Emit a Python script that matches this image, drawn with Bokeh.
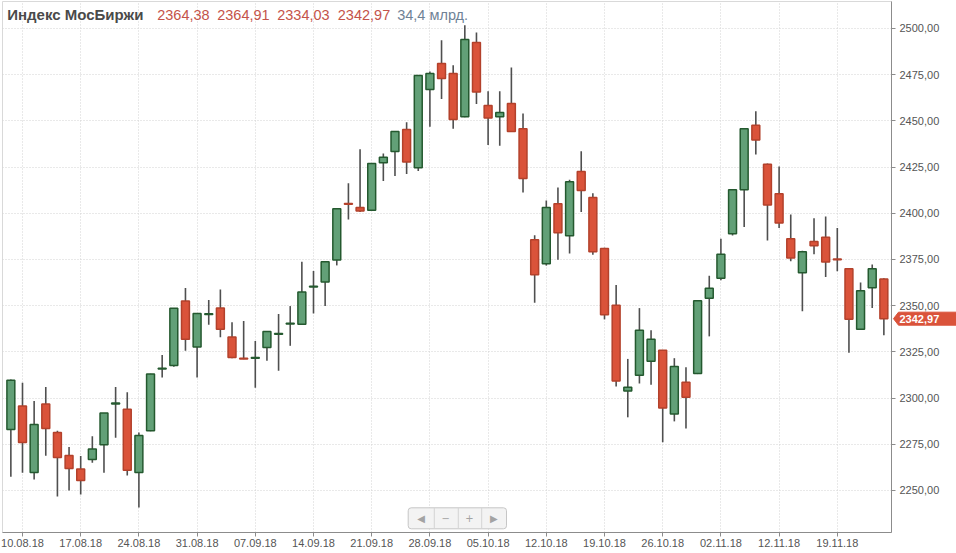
from bokeh.plotting import figure
from bokeh.models import (ColumnDataSource, FixedTicker, Label,
                          BoxAnnotation, Range1d, CustomJSTickFormatter)
from bokeh.core.properties import value
from bokeh.embed import file_html
from bokeh.resources import INLINE

# ---------------- data ----------------
dates = [
    "09.08.18", "10.08.18",
    "13.08.18", "14.08.18", "15.08.18", "16.08.18", "17.08.18",
    "20.08.18", "21.08.18", "22.08.18", "23.08.18", "24.08.18",
    "27.08.18", "28.08.18", "29.08.18", "30.08.18", "31.08.18",
    "03.09.18", "04.09.18", "05.09.18", "06.09.18", "07.09.18",
    "10.09.18", "11.09.18", "12.09.18", "13.09.18", "14.09.18",
    "17.09.18", "18.09.18", "19.09.18", "20.09.18", "21.09.18",
    "24.09.18", "25.09.18", "26.09.18", "27.09.18", "28.09.18",
    "01.10.18", "02.10.18", "03.10.18", "04.10.18", "05.10.18",
    "08.10.18", "09.10.18", "10.10.18", "11.10.18", "12.10.18",
    "15.10.18", "16.10.18", "17.10.18", "18.10.18", "19.10.18",
    "22.10.18", "23.10.18", "24.10.18", "25.10.18", "26.10.18",
    "29.10.18", "30.10.18", "31.10.18", "01.11.18", "02.11.18",
    "06.11.18", "07.11.18", "08.11.18", "09.11.18",
    "12.11.18", "13.11.18", "14.11.18", "15.11.18", "16.11.18",
    "19.11.18", "20.11.18", "21.11.18", "22.11.18", "23.11.18",
]

opens = [
    2283.0, 2295.7, 2259.7, 2296.8, 2281.4, 2269.0, 2261.6, 2266.8, 2274.7, 2296.8,
    2293.9, 2259.7, 2282.3, 2315.7, 2317.7, 2352.5, 2327.6, 2345.3, 2348.7, 2333.0,
    2321.6, 2321.6, 2327.4, 2334.6, 2340.1, 2339.9, 2360.1, 2362.8, 2374.7, 2405.3,
    2403.1, 2401.6, 2427.3, 2433.4, 2445.3, 2424.7, 2467.0, 2481.0, 2475.6, 2452.2,
    2492.4, 2458.3, 2452.2, 2459.4, 2445.8, 2385.7, 2372.7, 2405.2, 2387.9, 2422.6,
    2408.5, 2380.9, 2350.2, 2303.8, 2312.4, 2320.0, 2325.9, 2291.4, 2308.6, 2313.3,
    2354.0, 2364.8, 2388.9, 2412.8, 2447.7, 2426.5, 2410.6, 2386.2, 2367.8, 2384.8,
    2387.0, 2375.3, 2370.0, 2337.3, 2359.7, 2364.38,
]
highs = [
    2310.0, 2308.3, 2298.4, 2306.0, 2282.3, 2273.6, 2268.6, 2279.4, 2292.0, 2306.0,
    2303.1, 2281.4, 2313.2, 2323.3, 2348.8, 2359.6, 2346.0, 2353.1, 2358.8, 2341.0,
    2341.7, 2330.9, 2336.3, 2345.5, 2349.8, 2373.8, 2368.8, 2374.0, 2402.7, 2416.2,
    2434.7, 2427.0, 2432.3, 2444.3, 2449.3, 2474.5, 2476.7, 2493.7, 2480.1, 2501.8,
    2497.8, 2466.1, 2466.1, 2478.9, 2454.0, 2388.1, 2406.9, 2413.9, 2418.2, 2433.6,
    2410.8, 2381.4, 2361.2, 2321.2, 2348.7, 2336.7, 2326.0, 2321.6, 2316.7, 2352.8,
    2366.2, 2386.2, 2413.0, 2445.9, 2455.2, 2427.0, 2425.3, 2399.4, 2379.7, 2397.3,
    2398.3, 2392.0, 2370.2, 2362.6, 2372.3, 2364.91,
]
lows = [
    2257.4, 2259.6, 2256.0, 2268.8, 2246.8, 2250.0, 2247.8, 2265.0, 2259.6, 2278.5,
    2258.1, 2240.8, 2282.0, 2311.2, 2317.0, 2325.6, 2311.2, 2339.7, 2332.9, 2321.5,
    2321.0, 2305.6, 2320.2, 2314.8, 2328.3, 2339.5, 2345.8, 2349.8, 2371.8, 2396.6,
    2400.7, 2401.3, 2417.5, 2420.2, 2421.3, 2422.9, 2446.8, 2461.9, 2445.7, 2452.0,
    2459.2, 2437.0, 2436.5, 2444.0, 2411.2, 2351.6, 2371.7, 2374.9, 2378.2, 2400.7,
    2377.6, 2342.6, 2306.3, 2289.6, 2307.9, 2307.2, 2276.1, 2287.4, 2283.6, 2313.0,
    2333.4, 2363.8, 2388.0, 2392.6, 2431.8, 2385.3, 2392.0, 2374.1, 2347.0, 2377.9,
    2365.5, 2368.7, 2324.5, 2337.0, 2348.7, 2334.03,
]
closes = [
    2309.6, 2276.0, 2285.7, 2283.6, 2267.9, 2261.9, 2255.4, 2272.4, 2291.9, 2297.3,
    2261.0, 2279.8, 2313.0, 2316.1, 2348.6, 2331.8, 2345.8, 2345.7, 2337.2, 2322.0,
    2321.2, 2322.0, 2336.1, 2335.0, 2340.5, 2357.4, 2360.5, 2373.8, 2402.5, 2404.9,
    2401.3, 2426.9, 2430.3, 2444.2, 2427.8, 2474.5, 2475.6, 2472.9, 2450.7, 2494.0,
    2465.7, 2451.6, 2454.5, 2444.2, 2418.8, 2366.8, 2403.1, 2389.5, 2417.1, 2412.3,
    2379.2, 2345.1, 2309.2, 2305.9, 2336.7, 2331.8, 2294.6, 2317.1, 2300.5, 2352.7,
    2359.5, 2377.9, 2412.8, 2445.8, 2439.7, 2404.5, 2394.7, 2375.8, 2379.2, 2382.4,
    2373.6, 2374.9, 2342.7, 2358.1, 2370.0, 2342.97,
]

tick_labels = ["10.08.18", "17.08.18", "24.08.18", "31.08.18", "07.09.18",
               "14.09.18", "21.09.18", "28.09.18", "05.10.18", "12.10.18",
               "19.10.18", "26.10.18", "02.11.18", "12.11.18", "19.11.18"]
price_ticks = [2250, 2275, 2300, 2325, 2350, 2375, 2400, 2425, 2450, 2475, 2500]

title_text = "Индекс МосБиржи"
volume_bln = 34.4
volume_unit = "млрд."

# ---------------- styles ----------------
UP_FILL, UP_LINE = "#62a077", "#24592f"
DN_FILL, DN_LINE = "#da533a", "#b3412b"
WICK = "#4f4f4f"
GRID = "#d2d2d2"
AXIS = "#8c8c8c"
LABEL = "#555555"
FONT = "Liberation Sans"

W, H = 956, 553
BORDER_L, BORDER_T, BORDER_R, BORDER_B = 2, 1, 65, 21


def fmt(v, nd=2):
    return f"{v:.{nd}f}".replace(".", ",")


idx = list(range(len(dates)))
up = [c >= o for o, c in zip(opens, closes)]


def src(flag):
    sel = [i for i in idx if up[i] == flag]
    return ColumnDataSource(dict(
        x=sel,
        top=[max(opens[i], closes[i]) for i in sel],
        bottom=[min(opens[i], closes[i]) for i in sel],
        high=[highs[i] for i in sel],
        low=[lows[i] for i in sel],
    ))


src_up, src_dn = src(True), src(False)

yr = Range1d(2227.27, 2514.61)
p = figure(width=W, height=H,
           x_range=Range1d(-0.718, 75.656), y_range=yr,
           output_backend="svg", toolbar_location=None,
           y_axis_location="right",
           min_border_left=BORDER_L, min_border_top=BORDER_T,
           min_border_right=BORDER_R, min_border_bottom=BORDER_B)
p.outline_line_color = "#d9d9d9"
p.background_fill_color = "white"
p.border_fill_color = "white"

# wicks
for s in (src_up, src_dn):
    p.segment(x0="x", x1="x", y0="high", y1="low", source=s,
              line_color=WICK, line_width=1.6)
# bodies
p.vbar(x="x", width=0.68, top="top", bottom="bottom", source=src_up,
       fill_color=UP_FILL, line_color=UP_LINE, line_width=1.5)
p.vbar(x="x", width=0.68, top="top", bottom="bottom", source=src_dn,
       fill_color=DN_FILL, line_color=DN_LINE, line_width=1.5)

# axes
tick_idx = [dates.index(t) for t in tick_labels]
p.xaxis.ticker = FixedTicker(ticks=tick_idx)
p.xaxis.major_label_overrides = {i: t for i, t in zip(tick_idx, tick_labels)}
p.yaxis.ticker = FixedTicker(ticks=price_ticks)
p.yaxis.formatter = CustomJSTickFormatter(code="return tick.toFixed(2).replace('.', ',');")

for ax in (p.xaxis, p.yaxis):
    ax.axis_line_color = AXIS
    ax.major_tick_line_color = AXIS
    ax.minor_tick_line_color = None
    ax.major_tick_out = 4
    ax.major_tick_in = 0
    ax.major_label_text_font = FONT
    ax.major_label_text_font_size = "11px"
    ax.major_label_text_color = LABEL
p.xaxis.major_label_standoff = 2
p.yaxis.major_label_standoff = 4

p.xgrid.ticker = FixedTicker(ticks=tick_idx)
p.ygrid.ticker = FixedTicker(ticks=price_ticks)
for g in (p.xgrid, p.ygrid):
    g.grid_line_color = GRID
    g.grid_line_dash = "1 2"
    g.grid_line_width = 1

# title row (screen units: x from frame left, y from frame bottom; frame height 531)
TY = 518
p.add_layout(Label(x=4.7, y=TY, x_units="screen", y_units="screen", text=title_text,
                   text_font=FONT, text_font_size="15px", text_font_style="bold",
                   text_color="#4a4a4a", text_baseline="middle"))
ohlc = [opens[-1], highs[-1], lows[-1], closes[-1]]
for xs, v in zip([154.7, 214.7, 274.7, 335.3], ohlc):
    p.add_layout(Label(x=xs, y=TY, x_units="screen", y_units="screen", text=fmt(v),
                       text_font=FONT, text_font_size="14.5px",
                       text_color="#c4534a", text_baseline="middle"))
p.add_layout(Label(x=394.7, y=TY, x_units="screen", y_units="screen",
                   text=f"{fmt(volume_bln, 1)} {volume_unit}",
                   text_font=FONT, text_font_size="14.5px",
                   text_color="#6f8296", text_baseline="middle"))

# navigation widget
NB, NT = 3.7, 24.7
p.add_layout(BoxAnnotation(left=405.7, right=504, bottom=NB, top=NT,
                           left_units="screen", right_units="screen",
                           bottom_units="screen", top_units="screen",
                           fill_color="#f3f3f3", fill_alpha=1.0,
                           line_color="#c6c6c6", line_alpha=1.0, border_radius=3))
for sx in (431.3, 455.3, 478.7):
    p.add_layout(BoxAnnotation(left=sx, right=sx + 1, bottom=NB, top=NT,
                               left_units="screen", right_units="screen",
                               bottom_units="screen", top_units="screen",
                               fill_color="#d4d4d4", fill_alpha=1.0, line_color=None))
for sx, t in zip((418.5, 443.3, 467, 491.3), ("◀", "−", "+", "▶")):
    p.add_layout(Label(x=sx, y=14.2, x_units="screen", y_units="screen", text=t,
                       text_font="DejaVu Sans", text_font_size="10px",
                       text_color="#a3a3a3", text_align="center",
                       text_baseline="middle"))

# ---- last price marker: a transparent overlay strip sharing the price scale ----
p2 = figure(width=BORDER_R, height=H, x_range=Range1d(0, BORDER_R), y_range=yr,
            output_backend="svg", toolbar_location=None,
            x_axis_type=None, y_axis_type=None,
            min_border_left=0, min_border_right=0,
            min_border_top=BORDER_T, min_border_bottom=BORDER_B,
            background_fill_color=None, border_fill_color=None,
            outline_line_color=None,
            styles={"position": "absolute", "left": f"{W - BORDER_R}px", "top": "0px"})
c = closes[-1]
half = 3.52
tag = ColumnDataSource(dict(xs=[[2, 7, BORDER_R, BORDER_R, 7]],
                            ys=[[c, c + half, c + half, c - half, c - half]]))
p2.patches(xs="xs", ys="ys", source=tag, fill_color=DN_FILL, line_color=DN_FILL)
p2.text(x=[8], y=[c], text=[fmt(c)], text_font=value(FONT), text_font_size="11px",
        text_font_style="bold", text_color="white", text_baseline="middle")

open("out.html", "w").write(file_html([p, p2], INLINE))
